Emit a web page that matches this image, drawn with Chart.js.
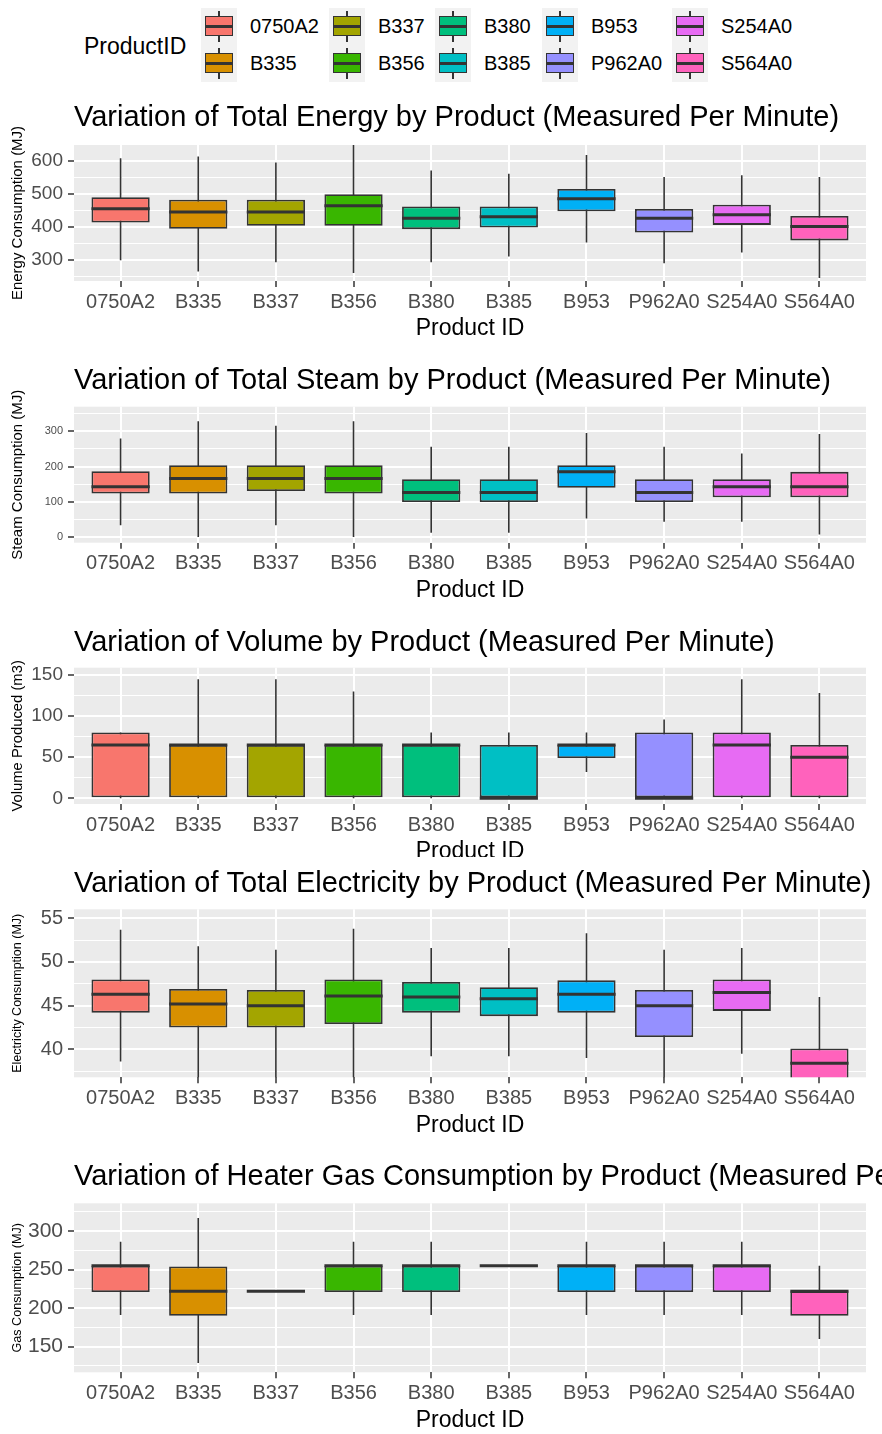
<!DOCTYPE html>
<html>
<head>
<meta charset="utf-8">
<script src="https://cdn.jsdelivr.net/npm/chart.js@4.4.1/dist/chart.umd.min.js"></script>
<style>
  html, body { margin: 0; padding: 0; background: #ffffff; }
  body { width: 882px; height: 1434px; position: relative; overflow: hidden;
         font-family: 'Liberation Sans', Arial, Helvetica, sans-serif; }
  .panel { position: absolute; left: 0; width: 882px; overflow: hidden; }
  .panel canvas { position: absolute; left: 0; top: 0; }
  #legend { position: absolute; left: 0; top: 0; width: 882px; height: 90px; }
  .lg-title { position: absolute; font-size: 23px; color: #000; white-space: nowrap; }
  .lg-key { position: absolute; width: 36px; height: 37px; background: #F2F2F2; }
  .lg-wh { position: absolute; left: 17.3px; top: 3px; width: 1.5px; height: 31px; background: #333333; }
  .lg-box { position: absolute; left: 4px; top: 8.5px; width: 28px; height: 20px; box-sizing: border-box; border: 1.6px solid #333333; }
  .lg-med { position: absolute; left: 4px; top: 17.3px; width: 28px; height: 2.8px; background: #333333; }
  .lg-text { position: absolute; font-size: 20px; color: #000; height: 24px; line-height: 24px; white-space: nowrap; }
</style>
</head>
<body>
<div id="legend"></div>
<div class="panel" id="p1"><canvas></canvas></div>
<div class="panel" id="p2"><canvas></canvas></div>
<div class="panel" id="p3"><canvas></canvas></div>
<div class="panel" id="p4"><canvas></canvas></div>
<div class="panel" id="p5"><canvas></canvas></div>
<script>
// ---------------- DATA ----------------
const categories = ['0750A2','B335','B337','B356','B380','B385','B953','P962A0','S254A0','S564A0'];

// Total Energy (MJ)
const energyMin    = [298, 264, 292, 259, 292, 309, 352, 289, 321, 244];
const energyQ1     = [412, 393, 402, 402, 392, 397, 446, 382, 405, 358];
const energyMedian = [454, 444, 444, 463, 425, 430, 484, 425, 436, 400];
const energyQ3     = [489, 481, 481, 498, 461, 461, 514, 453, 466, 432];
const energyMax    = [607, 612, 594, 655, 570, 560, 617, 550, 555, 550];
const energyTicks  = [300, 400, 500, 600];
const energyMinorTicks = [250, 350, 450, 550];

// Total Steam (MJ)
const steamMin    = [34, 1, 34, 1, 13, 13, 53, 44, 44, 8];
const steamQ1     = [124, 124, 131, 124, 100, 100, 140, 100, 113, 113];
const steamMedian = [143, 166, 166, 166, 127, 127, 185, 127, 143, 143];
const steamQ3     = [187, 204, 204, 204, 164, 164, 204, 164, 164, 185];
const steamMax    = [279, 328, 315, 328, 256, 256, 295, 256, 237, 292];
const steamTicks  = [0, 100, 200, 300];
const steamMinorTicks = [50, 150, 250, 350];

// Volume (m3)
const volumeMin    = [0, 0, 0, 0, 0, 0, 32, 0, 0, 0];
const volumeQ1     = [0, 0, 0, 0, 0, 0, 49, 0, 0, 0];
const volumeMedian = [65, 65, 65, 65, 65, 0, 65, 0, 65, 50];
const volumeQ3     = [80, 65, 65, 65, 65, 65, 65, 80, 80, 65];
const volumeMax    = [80, 145, 145, 130, 80, 80, 80, 96, 145, 128];
const volumeTicks  = [0, 50, 100, 150];
const volumeMinorTicks = [25, 75, 125];

// Total Electricity (MJ)
const elecMin    = [38.6, 36.0, 36.0, 36.0, 39.2, 39.2, 39.0, 36.0, 39.5, 35.0];
const elecQ1     = [44.2, 42.5, 42.5, 42.9, 44.2, 43.8, 44.2, 41.4, 44.4, 36.0];
const elecMedian = [46.3, 45.2, 45.0, 46.1, 46.0, 45.8, 46.3, 45.0, 46.5, 38.4];
const elecQ3     = [48.0, 46.9, 46.8, 48.0, 47.7, 47.1, 47.9, 46.8, 48.0, 40.1];
const elecMax    = [53.7, 51.8, 51.4, 53.8, 51.6, 51.6, 53.3, 51.4, 51.6, 46.0];
const elecTicks  = [40, 45, 50, 55];
const elecMinorTicks = [37.5, 42.5, 47.5, 52.5];

// Heater Gas (MJ)
const gasMin    = [191, 129, 222, 191, 191, 255, 191, 191, 191, 160];
const gasQ1     = [221, 190, 222, 221, 221, 255, 221, 221, 221, 190];
const gasMedian = [255, 222, 222, 255, 255, 255, 255, 255, 255, 222];
const gasQ3     = [255, 254, 222, 255, 255, 255, 255, 255, 255, 222];
const gasMax    = [286, 317, 222, 286, 286, 255, 286, 286, 286, 255];
const gasTicks  = [150, 200, 250, 300];
const gasMinorTicks = [125, 175, 225, 275, 325];

// ---------------- STYLE ----------------
const palette = ['#F8766D','#D89000','#A3A500','#39B600','#00BF7D','#00BFC4','#00B0F6','#9590FF','#E76BF3','#FF62BC'];
const FAMILY = "'Liberation Sans', Arial, Helvetica, sans-serif";
const INK = '#333333';

Chart.defaults.font.family = FAMILY;
Chart.defaults.animation = false;

// ---------------- LEGEND (HTML) ----------------
(function buildLegend() {
  const lg = document.getElementById('legend');
  const t = document.createElement('div');
  t.className = 'lg-title'; t.textContent = 'ProductID';
  t.style.left = '84px'; t.style.top = '33px';
  lg.appendChild(t);
  const colLeft = [201, 329, 435, 542, 672];
  const rowTop = [7.5, 44.5];
  categories.forEach((c, i) => {
    const col = Math.floor(i / 2), row = i % 2;
    const key = document.createElement('div');
    key.className = 'lg-key';
    key.style.left = colLeft[col] + 'px'; key.style.top = rowTop[row] + 'px';
    key.innerHTML = '<div class="lg-wh"></div><div class="lg-box" style="background:' + palette[i] + '"></div><div class="lg-med"></div>';
    lg.appendChild(key);
    const tx = document.createElement('div');
    tx.className = 'lg-text'; tx.textContent = c;
    tx.style.left = (colLeft[col] + 49) + 'px';
    tx.style.top = (rowTop[row] + 18.5 - 12) + 'px';
    lg.appendChild(tx);
  });
})();

// ---------------- PLUGINS ----------------
const panelBg = {
  id: 'panelBg',
  beforeDraw(chart) {
    const { ctx, chartArea: a } = chart;
    ctx.save();
    ctx.fillStyle = '#EBEBEB';
    ctx.fillRect(a.left, a.top, a.right - a.left, a.bottom - a.top);
    ctx.restore();
  }
};
const panelTitle = {
  id: 'panelTitle',
  afterDraw(chart, args, opts) {
    const ctx = chart.ctx;
    ctx.save();
    ctx.font = opts.size + 'px ' + FAMILY;
    ctx.fillStyle = '#000000';
    ctx.textBaseline = 'middle';
    ctx.textAlign = 'left';
    ctx.fillText(opts.text, chart.chartArea.left, opts.y);
    ctx.restore();
  }
};

// ---------------- PANEL FACTORY ----------------
function makePanel(id, p) {
  const el = document.getElementById(id);
  el.style.top = p.top + 'px';
  el.style.height = p.clipH + 'px';
  const canvas = el.querySelector('canvas');
  canvas.width = 882; canvas.height = p.h;
  canvas.style.width = '882px'; canvas.style.height = p.h + 'px';

  const bottom = p.top + p.h;
  const xAxisH = bottom - p.plotBottom;
  const xTitleSize = 23;
  const xTitlePadBottom = Math.max(0, bottom - p.xTitleMid - xTitleSize * 0.6);
  const major = new Set(p.ticks);
  const allTicks = p.ticks.concat(p.minor).sort((a, b) => a - b);
  const isMajor = c => c && c.tick && major.has(c.tick.value);

  const whisker = [], median = [], boxes = [];
  categories.forEach((c, i) => {
    whisker.push({ x: i, y: p.min[i] }, { x: i, y: p.max[i] }, { x: i, y: null });
    median.push({ x: i - 0.375, y: p.med[i] }, { x: i + 0.375, y: p.med[i] }, { x: i, y: null });
    boxes.push({ x: i, y: [p.q1[i], p.q3[i]] });
  });

  return new Chart(canvas, {
    type: 'bar',
    data: {
      datasets: [
        { type: 'line', label: 'whisker', data: whisker, borderColor: INK, borderWidth: 1.6,
          pointRadius: 0, spanGaps: false, tension: 0, clip: 0, order: 3, borderCapStyle: 'butt' },
        { type: 'bar', label: 'box', data: boxes, backgroundColor: palette, borderColor: INK,
          borderWidth: 1.8, borderSkipped: false, barPercentage: 0.75, categoryPercentage: 1.0,
          clip: 0, order: 2 },
        { type: 'line', label: 'median', data: median, borderColor: INK, borderWidth: 3,
          pointRadius: 0, spanGaps: false, tension: 0, clip: 0, order: 1, borderCapStyle: 'butt' }
      ]
    },
    options: {
      responsive: false,
      devicePixelRatio: 1,
      animation: false,
      events: [],
      layout: { padding: { top: p.plotTop - p.top, right: 16, bottom: 0, left: 0 } },
      plugins: {
        legend: { display: false },
        tooltip: { enabled: false },
        title: { display: false },
        panelTitle: { text: p.title, y: p.titleMid - p.top, size: 29 }
      },
      scales: {
        x: {
          type: 'linear', min: -0.6, max: 9.6, offset: false,
          afterBuildTicks: ax => { ax.ticks = categories.map((c, i) => ({ value: i })); },
          afterFit: ax => { ax.height = xAxisH; },
          ticks: { callback: v => categories[v], autoSkip: false, maxRotation: 0, minRotation: 0,
                   font: { size: 20 }, color: '#4D4D4D', padding: 3 },
          grid: { color: '#FFFFFF', lineWidth: 2, tickColor: INK, tickLength: 6, tickWidth: 1.5, offset: false },
          border: { display: false },
          title: { display: true, text: 'Product ID', font: { size: xTitleSize }, color: '#000000',
                   padding: { top: 0, bottom: xTitlePadBottom } }
        },
        y: {
          type: 'linear', min: p.yMin, max: p.yMax,
          afterBuildTicks: ax => { ax.ticks = allTicks.map(v => ({ value: v })); },
          afterFit: ax => { ax.width = 74; },
          ticks: { callback: v => major.has(v) ? String(v) : '', autoSkip: false,
                   font: { size: p.yTickSize }, color: '#4D4D4D', padding: 5 },
          grid: { color: '#FFFFFF', lineWidth: c => isMajor(c) ? 2 : 1,
                  tickColor: c => isMajor(c) ? INK : 'rgba(0,0,0,0)', tickLength: 6, tickWidth: 1.5 },
          border: { display: false },
          title: { display: true, text: p.yTitle, font: { size: p.yTitleSize }, color: '#000000',
                   padding: { top: 17.5 - p.yTitleSize * 0.6, bottom: 0 } }
        }
      }
    },
    plugins: [panelBg, panelTitle]
  });
}

// ---------------- PANELS ----------------
makePanel('p1', {
  top: 92, h: 258, clipH: 258, titleMid: 118.3, plotTop: 145, plotBottom: 281, xTitleMid: 329,
  title: 'Variation of Total Energy by Product (Measured Per Minute)',
  yTitle: 'Energy Consumption (MJ)', yTitleSize: 15, yTickSize: 19,
  yMin: 235, yMax: 647, ticks: energyTicks, minor: energyMinorTicks,
  min: energyMin, q1: energyQ1, med: energyMedian, q3: energyQ3, max: energyMax
});
makePanel('p2', {
  top: 352, h: 256, clipH: 256, titleMid: 381.3, plotTop: 406.7, plotBottom: 542.7, xTitleMid: 590.3,
  title: 'Variation of Total Steam by Product (Measured Per Minute)',
  yTitle: 'Steam Consumption (MJ)', yTitleSize: 15, yTickSize: 11,
  yMin: -15, yMax: 369, ticks: steamTicks, minor: steamMinorTicks,
  min: steamMin, q1: steamQ1, med: steamMedian, q3: steamQ3, max: steamMax
});
makePanel('p3', {
  top: 612, h: 270, clipH: 245, titleMid: 642.6, plotTop: 667.7, plotBottom: 804, xTitleMid: 852,
  title: 'Variation of Volume by Product (Measured Per Minute)',
  yTitle: 'Volume Produced (m3)', yTitleSize: 14.8, yTickSize: 19,
  yMin: -6.9, yMax: 158.9, ticks: volumeTicks, minor: volumeMinorTicks,
  min: volumeMin, q1: volumeQ1, med: volumeMedian, q3: volumeQ3, max: volumeMax
});
makePanel('p4', {
  top: 860, h: 280, clipH: 280, titleMid: 883.6, plotTop: 909.3, plotBottom: 1077.3, xTitleMid: 1125.3,
  title: 'Variation of Total Electricity by Product (Measured Per Minute)',
  yTitle: 'Electricity Consumption (MJ)', yTitleSize: 12.5, yTickSize: 20,
  yMin: 36.8, yMax: 56.03, ticks: elecTicks, minor: elecMinorTicks,
  min: elecMin, q1: elecQ1, med: elecMedian, q3: elecQ3, max: elecMax
});
makePanel('p5', {
  top: 1145, h: 289, clipH: 289, titleMid: 1177, plotTop: 1203.3, plotBottom: 1372.3, xTitleMid: 1420.3,
  title: 'Variation of Heater Gas Consumption by Product (Measured Per Minute)',
  yTitle: 'Gas Consumption (MJ)', yTitleSize: 12.6, yTickSize: 21,
  yMin: 116.8, yMax: 335.9, ticks: gasTicks, minor: gasMinorTicks,
  min: gasMin, q1: gasQ1, med: gasMedian, q3: gasQ3, max: gasMax
});
</script>
</body>
</html>
